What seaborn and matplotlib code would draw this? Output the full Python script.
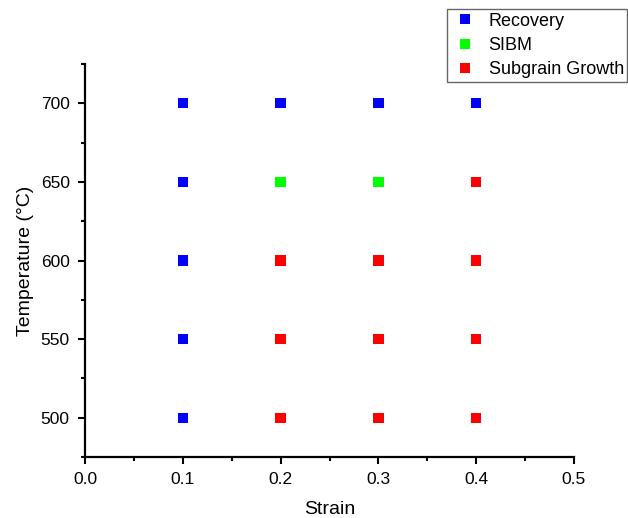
import pandas as pd
import numpy as np
import matplotlib.pyplot as plt
import seaborn as sns
from matplotlib.ticker import MultipleLocator

# Regime map points
recovery_strain = [0.1, 0.1, 0.1, 0.1, 0.1, 0.2, 0.3, 0.4]
recovery_temp = [500, 550, 600, 650, 700, 700, 700, 700]
sibm_strain = [0.2, 0.3]
sibm_temp = [650, 650]
growth_strain = [0.2, 0.2, 0.2, 0.3, 0.3, 0.3, 0.4, 0.4, 0.4, 0.4]
growth_temp = [500, 550, 600, 500, 550, 600, 500, 550, 600, 650]

regimes = ["Recovery", "SIBM", "Subgrain Growth"]
colors = ["#0000ff", "#00ff00", "#ff0000"]

df = pd.concat([
    pd.DataFrame({"Strain": recovery_strain, "Temp": recovery_temp, "Regime": "Recovery"}),
    pd.DataFrame({"Strain": sibm_strain, "Temp": sibm_temp, "Regime": "SIBM"}),
    pd.DataFrame({"Strain": growth_strain, "Temp": growth_temp, "Regime": "Subgrain Growth"}),
])

sns.set_style("ticks", {"text.color": "black", "axes.labelcolor": "black",
                        "xtick.color": "black", "ytick.color": "black"})
plt.rcParams["font.family"] = ["Liberation Sans", "DejaVu Sans"]

fig = plt.figure(figsize=(6.28, 5.18), dpi=100)
ax = fig.add_axes([0.1354, 0.1178, 0.7786, 0.7586])

sns.scatterplot(data=df, x="Strain", y="Temp", hue="Regime", hue_order=regimes,
                palette=colors, marker="s", s=55, linewidth=0, ax=ax, legend=True)

ax.set_xlim(0.0, 0.5)
ax.set_ylim(475, 725)
ax.xaxis.set_minor_locator(MultipleLocator(0.05))
ax.yaxis.set_major_locator(MultipleLocator(50))
ax.yaxis.set_minor_locator(MultipleLocator(25))
ax.set_xticks([0.0, 0.1, 0.2, 0.3, 0.4, 0.5])
ax.set_xticklabels(["0.0", "0.1", "0.2", "0.3", "0.4", "0.5"])

for s in ["top", "right"]:
    ax.spines[s].set_visible(False)
for s in ["left", "bottom"]:
    ax.spines[s].set_linewidth(1.6)
    ax.spines[s].set_color("black")
ax.tick_params(which="major", direction="out", length=5, width=1.5, labelsize=12.5,
               colors="black", pad=6)
ax.tick_params(which="minor", direction="out", length=3, width=1.5, colors="black")

ax.set_xlabel("Strain", fontsize=14, labelpad=10, color="black")
ax.set_ylabel("Temperature (°C)", fontsize=14, labelpad=5, color="black")

handles, labels = ax.get_legend_handles_labels()
ax.get_legend().remove()
leg = fig.legend(handles, labels, loc="upper left", bbox_to_anchor=(438 / 628, 1 - 0 / 518),
                 frameon=True, fancybox=False, fontsize=13, handletextpad=0.5,
                 borderpad=0.2, labelspacing=0.4, markerscale=0.9, handlelength=1.6)
leg.get_frame().set_edgecolor("#404040")
leg.get_frame().set_linewidth(1.0)
for t in leg.get_texts():
    t.set_color("black")

fig.savefig("out.png", dpi=100)
